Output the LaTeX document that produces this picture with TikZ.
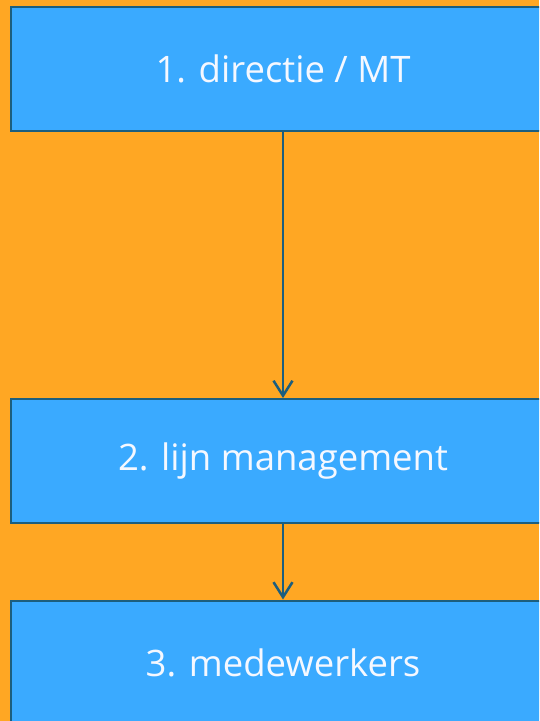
\documentclass[tikz,border=0pt]{standalone}
\usepackage{fontspec}
\setmainfont{Open Sans}
\usetikzlibrary{arrows.meta}
\definecolor{bgorange}{RGB}{255,167,35}
\definecolor{boxblue}{RGB}{58,170,255}
\definecolor{edgeteal}{RGB}{28,94,126}
\definecolor{txtwhite}{RGB}{245,248,255}
\begin{document}
\begin{tikzpicture}[x=1pt,y=-1pt,
  levelbox/.style={draw=edgeteal,line width=2pt,fill=boxblue,minimum width=544pt,minimum height=124pt,inner sep=0pt,text=txtwhite,font=\fontsize{36.5}{42}\selectfont},
  flow/.style={draw=edgeteal,line width=2.5pt,-{Straight Barb[length=15pt,width=19pt,line width=2.5pt]}}]
\useasboundingbox (0,0) rectangle (539,721);
\clip (0,0) rectangle (539,721);
\fill[bgorange] (0,0) rectangle (539,721);
\node[levelbox] (n1) at (283,68.5) {1. directie / MT};
\node[levelbox] (n2) at (283,461) {2. lijn management};
\node[levelbox] (n3) at (283,662.5) {3. medewerkers};
\draw[flow] (n1.south) -- (n2.north);
\draw[flow] (n2.south) -- (n3.north);
\end{tikzpicture}
\end{document}
